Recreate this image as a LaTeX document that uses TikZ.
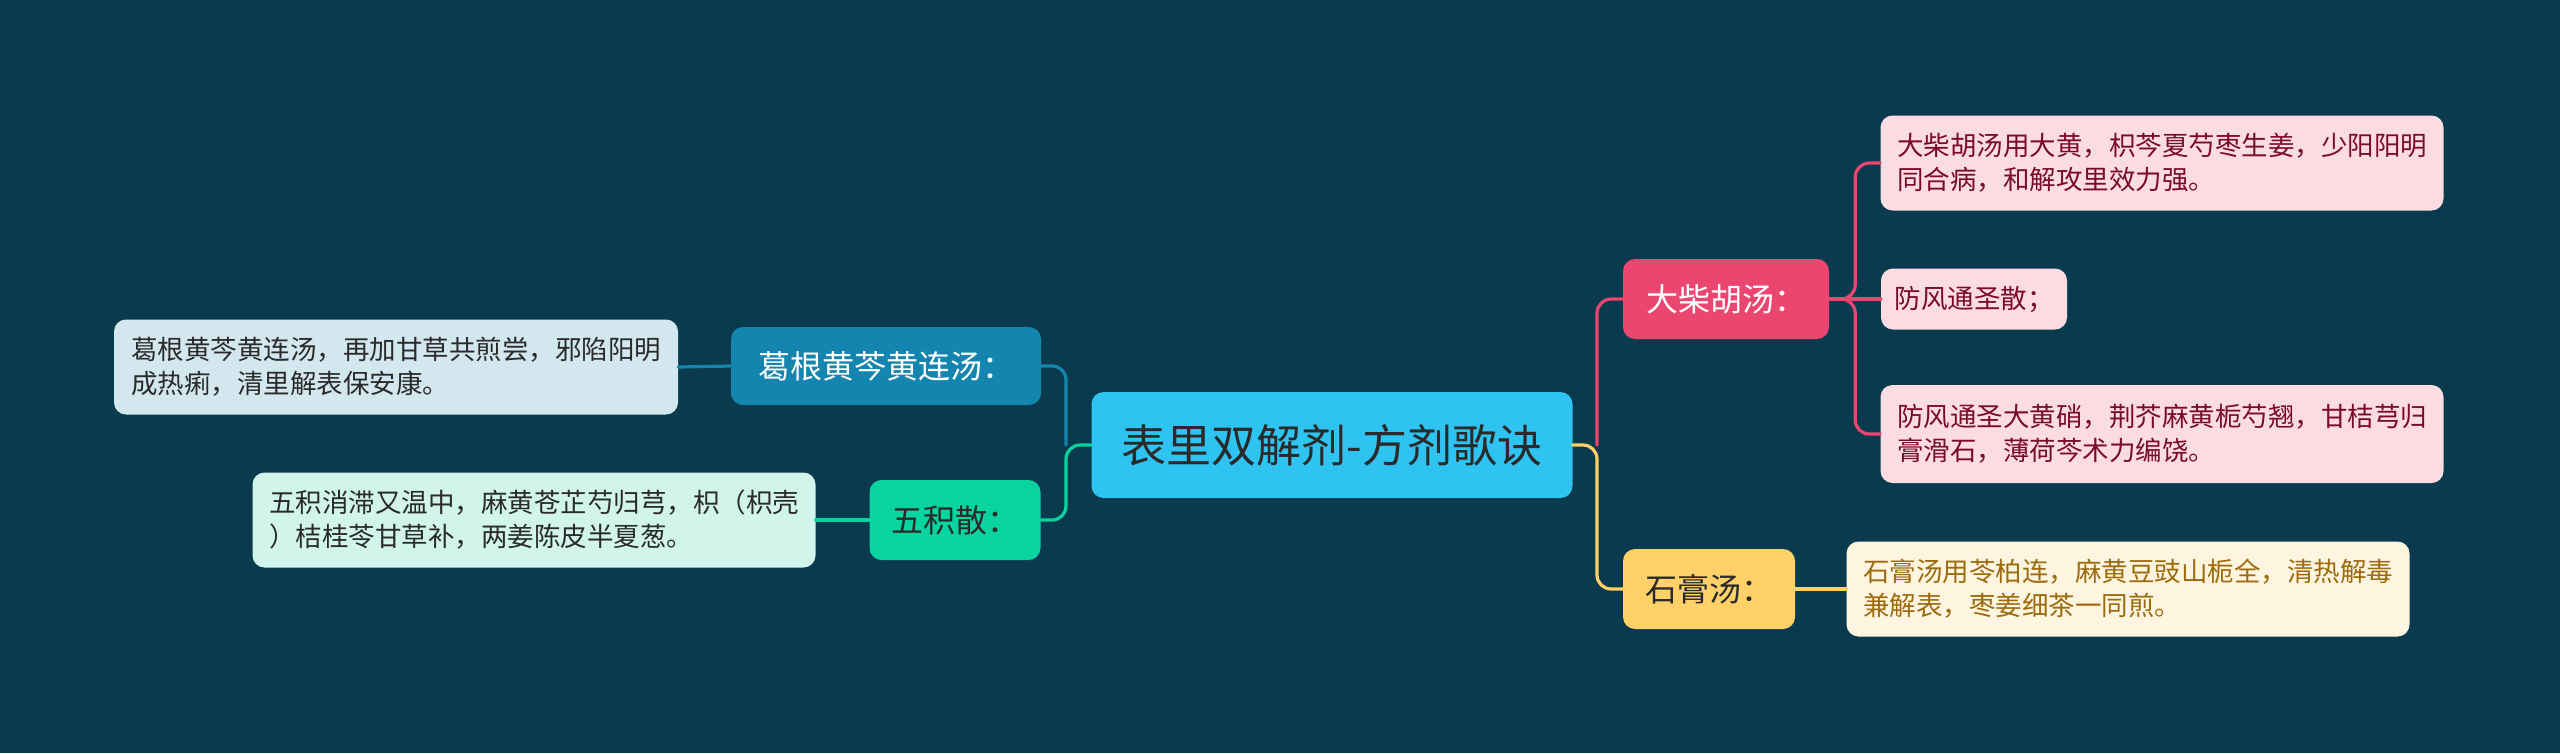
\documentclass[tikz,border=0pt]{standalone}
\usepackage{fontspec}
\setmainfont{Noto Sans CJK SC}
\definecolor{bgc}{HTML}{093A4D}
\definecolor{rootc}{HTML}{2EC3F1}
\definecolor{pinkc}{HTML}{EB4670}
\definecolor{pinkl}{HTML}{FCDCE3}
\definecolor{pinkt}{HTML}{7A0C2A}
\definecolor{yelc}{HTML}{FFD166}
\definecolor{yell}{HTML}{FEF5E1}
\definecolor{yelt}{HTML}{9C6B0C}
\definecolor{bluc}{HTML}{1385AF}
\definecolor{blul}{HTML}{D3E7EF}
\definecolor{grnc}{HTML}{07D49F}
\definecolor{grnl}{HTML}{D1F5EB}
\definecolor{darkt}{HTML}{2A2A2A}
\tikzset{
  box/.style={rounded corners=12,inner sep=0pt,align=center},
  roottopic/.style={box,fill=rootc,text=darkt,minimum width=481,minimum height=106,
    font=\fontsize{45pt}{52pt}\selectfont},
  topic/.style={box,minimum height=80,font=\fontsize{32pt}{38pt}\selectfont},
  leaf/.style={box,align=left,minimum height=95,font=\fontsize{26.5pt}{34pt}\selectfont},
  link/.style={line width=3.2pt,rounded corners=14}
}
\begin{document}
\begin{tikzpicture}[x=1pt,y=-1pt,line join=round,line cap=round]
  \fill[bgc] (0,0) rectangle (2560,753);

  % main topic and branches
  \node[roottopic] (root) at (1332,445) {表里双解剂-方剂歌诀};
  \node[topic,fill=pinkc,text=white,minimum width=206] (dch) at (1726,299) {大柴胡汤：};
  \node[topic,fill=yelc,text=darkt,minimum width=172] (sgt) at (1709,589) {石膏汤：};
  \node[topic,fill=bluc,text=white,minimum width=310,minimum height=78] (ggt) at (886,366) {葛根黄芩黄连汤：};
  \node[topic,fill=grnc,text=darkt,minimum width=171] (wjs) at (955,520) {五积散：};

  % leaves
  \node[leaf,fill=pinkl,text=pinkt,minimum width=563] (dch1) at (2162,163)
    {大柴胡汤用大黄，枳芩夏芍枣生姜，少阳阳明\\同合病，和解攻里效力强。};
  \node[leaf,fill=pinkl,text=pinkt,minimum width=186,minimum height=61] (dch2) at (1974,299)
    {防风通圣散；};
  \node[leaf,fill=pinkl,text=pinkt,minimum width=563,minimum height=98] (dch3) at (2162,434)
    {防风通圣大黄硝，荆芥麻黄栀芍翘，甘桔芎归\\膏滑石，薄荷芩术力编饶。};
  \node[leaf,fill=yell,text=yelt,minimum width=563] (sgt1) at (2128,589)
    {石膏汤用苓柏连，麻黄豆豉山栀全，清热解毒\\兼解表，枣姜细茶一同煎。};
  \node[leaf,fill=blul,text=darkt,minimum width=564] (ggt1) at (396,367)
    {葛根黄芩黄连汤，再加甘草共煎尝，邪陷阳明\\成热痢，清里解表保安康。};
  \node[leaf,fill=grnl,text=darkt,minimum width=563] (wjs1) at (534,520)
    {五积消滞又温中，麻黄苍芷芍归芎，枳（枳壳\\）桔桂苓甘草补，两姜陈皮半夏葱。};

  \coordinate (jr) at (1597,445);
  \coordinate (jl) at (1066,445);

  % connectors
  \draw[link,yelc] (root.east) -- (jr) |- (sgt.west);
  \draw[link,pinkc] (jr) |- (dch.west);
  \draw[link,grnc] (root.west) -- (jl) |- (wjs.east);
  \draw[link,bluc] (jl) |- (ggt.east);

  \draw[link,pinkc] (dch.east) -- ++(26,0) |- (dch1.west);
  \draw[link,pinkc] (dch.east) -- (dch2.west);
  \draw[link,pinkc] (dch.east) -- ++(26,0) |- (dch3.west);
  \draw[link,yelc] (sgt.east) -- (sgt1.west);
  \draw[link,bluc] (ggt.west) -- (ggt1.east);
  \draw[link,grnc] (wjs.west) -- (wjs1.east);
\end{tikzpicture}
\end{document}
